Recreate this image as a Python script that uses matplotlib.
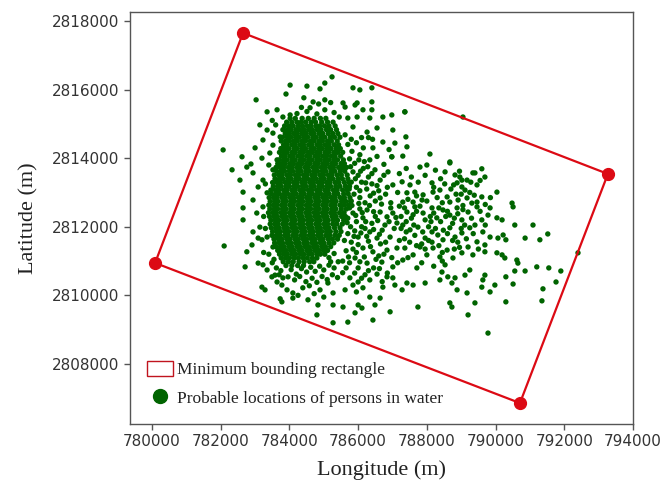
import matplotlib
matplotlib.use("Agg")
import matplotlib.pyplot as plt
import numpy as np
from matplotlib.lines import Line2D
from matplotlib.patches import Patch

# origin of the km offsets used below (UTM metres)
EAST0 = 780000
NORTH0 = 2800000

# corners of the minimum bounding rectangle (m), in drawing order
CORNER_LON = [782650, 793270, 790710, 780090]
CORNER_LAT = [2817650, 2813540, 2806860, 2810945]

# dense core of the drift cloud: (northing km offset, [easting km offsets])
CORE_ROWS = [
    (15.16, [4.02, 4.17, 4.37, 4.55, 4.72, 4.90, 5.06]),
    (15.05, [3.92, 4.07, 4.22, 4.34, 4.47, 4.63, 4.76, 4.94, 5.11, 5.27]),
    (14.94, [3.86, 3.99, 4.11, 4.26, 4.38, 4.52, 4.63, 4.77, 4.88, 5.02, 5.15, 5.33]),
    (14.83, [3.81, 3.94, 4.05, 4.19, 4.30, 4.43, 4.56, 4.67, 4.81, 4.92, 5.08, 5.20, 5.37]),
    (14.72, [3.88, 3.99, 4.12, 4.23, 4.37, 4.48, 4.62, 4.72, 4.87, 4.97, 5.13, 5.26, 5.41]),
    (14.61, [3.80, 3.94, 4.04, 4.18, 4.29, 4.43, 4.53, 4.68, 4.78, 4.92, 5.03, 5.19, 5.31, 5.47]),
    (14.50, [3.76, 3.89, 4.00, 4.13, 4.23, 4.37, 4.47, 4.61, 4.72, 4.86, 4.96, 5.11, 5.22, 5.39]),
    (14.39, [3.83, 3.93, 4.07, 4.17, 4.31, 4.41, 4.56, 4.65, 4.80, 4.90, 5.04, 5.15, 5.30, 5.43]),
    (14.28, [3.75, 3.88, 3.98, 4.13, 4.23, 4.37, 4.47, 4.62, 4.71, 4.85, 4.96, 5.10, 5.21, 5.36, 5.48]),
    (14.17, [3.71, 3.83, 3.93, 4.07, 4.17, 4.31, 4.41, 4.55, 4.66, 4.79, 4.89, 5.04, 5.14, 5.29, 5.41, 5.55]),
    (14.06, [3.77, 3.87, 4.01, 4.11, 4.25, 4.36, 4.50, 4.59, 4.74, 4.84, 4.97, 5.08, 5.22, 5.33, 5.49]),
    (13.95, [3.70, 3.83, 3.93, 4.07, 4.17, 4.32, 4.42, 4.56, 4.66, 4.80, 4.90, 5.04, 5.15, 5.29, 5.40, 5.57]),
    (13.84, [3.66, 3.78, 3.88, 4.02, 4.12, 4.26, 4.36, 4.50, 4.60, 4.74, 4.84, 4.98, 5.09, 5.23, 5.34, 5.50, 5.60]),
    (13.73, [3.61, 3.73, 3.83, 3.97, 4.07, 4.21, 4.31, 4.45, 4.55, 4.69, 4.79, 4.93, 5.03, 5.17, 5.28, 5.43, 5.55, 5.66]),
    (13.62, [3.63, 3.76, 3.86, 4.00, 4.10, 4.24, 4.34, 4.48, 4.58, 4.72, 4.82, 4.96, 5.06, 5.21, 5.32, 5.48, 5.61]),
    (13.51, [3.56, 3.69, 3.79, 3.93, 4.03, 4.17, 4.27, 4.41, 4.51, 4.65, 4.75, 4.89, 4.99, 5.13, 5.24, 5.39, 5.51, 5.68]),
    (13.40, [3.58, 3.71, 3.81, 3.95, 4.05, 4.19, 4.29, 4.43, 4.53, 4.67, 4.77, 4.91, 5.01, 5.15, 5.26, 5.41, 5.54, 5.70]),
    (13.29, [3.51, 3.64, 3.74, 3.88, 3.98, 4.12, 4.22, 4.36, 4.46, 4.60, 4.70, 4.84, 4.94, 5.08, 5.18, 5.33, 5.44, 5.60, 5.74]),
    (13.18, [3.53, 3.66, 3.76, 3.90, 4.00, 4.14, 4.24, 4.38, 4.48, 4.62, 4.72, 4.86, 4.96, 5.10, 5.20, 5.35, 5.47, 5.63, 5.75]),
    (13.07, [3.46, 3.59, 3.69, 3.83, 3.93, 4.07, 4.17, 4.31, 4.41, 4.55, 4.65, 4.79, 4.89, 5.03, 5.13, 5.28, 5.39, 5.55, 5.68]),
    (12.96, [3.48, 3.61, 3.71, 3.85, 3.95, 4.09, 4.19, 4.33, 4.43, 4.57, 4.67, 4.81, 4.91, 5.05, 5.15, 5.30, 5.41, 5.58, 5.71]),
    (12.85, [3.41, 3.54, 3.64, 3.78, 3.88, 4.02, 4.12, 4.26, 4.36, 4.50, 4.60, 4.74, 4.84, 4.98, 5.08, 5.22, 5.33, 5.48, 5.60, 5.76]),
    (12.74, [3.44, 3.57, 3.67, 3.81, 3.91, 4.05, 4.15, 4.29, 4.39, 4.53, 4.63, 4.77, 4.87, 5.01, 5.11, 5.25, 5.36, 5.52, 5.64, 5.78]),
    (12.63, [3.40, 3.53, 3.63, 3.77, 3.87, 4.01, 4.11, 4.25, 4.35, 4.49, 4.59, 4.73, 4.83, 4.97, 5.07, 5.21, 5.32, 5.47, 5.59, 5.72]),
    (12.52, [3.43, 3.56, 3.66, 3.80, 3.90, 4.04, 4.14, 4.28, 4.38, 4.52, 4.62, 4.76, 4.86, 5.00, 5.10, 5.24, 5.35, 5.51, 5.66]),
    (12.41, [3.39, 3.52, 3.62, 3.76, 3.86, 4.00, 4.10, 4.24, 4.34, 4.48, 4.58, 4.72, 4.82, 4.96, 5.06, 5.20, 5.31, 5.46, 5.59]),
    (12.30, [3.42, 3.55, 3.65, 3.79, 3.89, 4.03, 4.13, 4.27, 4.37, 4.51, 4.61, 4.75, 4.85, 4.99, 5.09, 5.24, 5.36, 5.52, 5.63]),
    (12.19, [3.46, 3.59, 3.69, 3.83, 3.93, 4.07, 4.17, 4.31, 4.41, 4.55, 4.65, 4.79, 4.89, 5.03, 5.13, 5.28, 5.40, 5.58]),
    (12.08, [3.44, 3.57, 3.67, 3.81, 3.91, 4.05, 4.15, 4.29, 4.39, 4.53, 4.63, 4.77, 4.87, 5.01, 5.11, 5.26, 5.38, 5.54]),
    (11.97, [3.47, 3.60, 3.70, 3.84, 3.94, 4.08, 4.18, 4.32, 4.42, 4.56, 4.66, 4.80, 4.90, 5.04, 5.15, 5.31, 5.47]),
    (11.86, [3.51, 3.64, 3.74, 3.88, 3.98, 4.12, 4.22, 4.36, 4.46, 4.60, 4.70, 4.84, 4.94, 5.08, 5.19, 5.35, 5.50]),
    (11.75, [3.49, 3.62, 3.72, 3.86, 3.96, 4.10, 4.20, 4.34, 4.44, 4.58, 4.68, 4.82, 4.92, 5.06, 5.17, 5.32, 5.45]),
    (11.64, [3.55, 3.68, 3.78, 3.92, 4.02, 4.16, 4.26, 4.40, 4.50, 4.64, 4.74, 4.88, 4.98, 5.13, 5.25, 5.40]),
    (11.53, [3.57, 3.70, 3.80, 3.94, 4.04, 4.18, 4.28, 4.42, 4.52, 4.66, 4.76, 4.90, 5.00, 5.15, 5.29]),
    (11.42, [3.61, 3.74, 3.84, 3.98, 4.08, 4.22, 4.32, 4.46, 4.56, 4.70, 4.80, 4.94, 5.05, 5.20]),
    (11.31, [3.66, 3.79, 3.89, 4.03, 4.13, 4.27, 4.37, 4.51, 4.61, 4.75, 4.85, 4.99, 5.11]),
    (11.20, [3.71, 3.84, 3.94, 4.08, 4.18, 4.32, 4.42, 4.56, 4.66, 4.80, 4.90, 5.03]),
    (11.09, [3.76, 3.89, 4.00, 4.14, 4.26, 4.40, 4.52, 4.67, 4.80]),
    (10.98, [3.82, 3.97, 4.11, 4.28, 4.43, 4.59, 4.71]),
    (10.87, [3.90, 4.07, 4.24, 4.41]),
]

# scattered positions around the core: (easting km offset, northing km offset)
SCATTER_PTS = [
    # northern fringe
    (4.02, 16.13), (4.51, 16.10), (4.89, 16.02), (5.24, 16.37), (5.03, 16.19),
    (5.85, 16.05), (6.05, 15.99), (6.40, 16.05), (3.03, 15.70), (3.90, 15.87),
    (4.42, 15.76), (4.69, 15.64), (5.03, 15.70), (4.85, 15.58), (5.20, 15.62),
    (5.62, 15.49), (5.91, 15.55), (6.14, 15.41), (6.40, 15.41), (5.56, 15.61),
    (5.97, 15.61), (6.40, 15.64), (3.35, 15.35), (3.64, 15.41), (3.81, 15.20),
    (4.02, 15.26), (4.22, 15.30), (4.51, 15.36), (4.80, 15.29), (5.03, 15.41),
    (5.30, 15.33), (5.45, 15.20), (4.35, 15.48), (4.60, 15.47), (6.72, 15.20),
    (6.98, 15.26), (7.36, 15.35), (9.05, 15.20), (5.70, 15.17), (5.97, 15.20),
    (6.34, 15.17), (6.55, 14.88), (6.26, 14.76), (7.01, 14.82), (5.85, 14.91),
    (5.62, 14.68), (3.14, 14.97), (3.35, 14.82), (3.52, 14.73), (3.23, 14.53),
    (3.73, 14.62), (3.60, 14.97), (3.50, 15.10),
    # western fringe
    (2.07, 14.24), (2.62, 14.04), (3.00, 14.30), (3.43, 14.15), (3.64, 13.95),
    (3.52, 14.38), (2.33, 13.66), (2.76, 13.74), (2.88, 13.83), (2.94, 13.57),
    (3.52, 13.66), (2.56, 13.36), (3.23, 13.36), (3.40, 13.80), (3.20, 14.00),
    (2.65, 13.01), (3.09, 13.16), (3.35, 12.99), (2.94, 12.78), (3.23, 12.58),
    (3.30, 13.25), (2.65, 12.55), (2.65, 12.20), (3.14, 11.99), (3.09, 11.67),
    (3.20, 11.62), (2.94, 11.85), (3.35, 11.70), (2.91, 11.47), (3.52, 11.41),
    (3.25, 12.30), (3.05, 12.40), (3.30, 11.95), (2.10, 11.44), (2.76, 11.27),
    (3.40, 11.20), (3.55, 11.05), (3.25, 11.25), (2.71, 10.83), (3.09, 10.94),
    (3.23, 10.89), (3.35, 10.74), (3.50, 10.95), (3.62, 10.80), (3.75, 10.72),
    (3.20, 10.24), (3.29, 10.16), (3.49, 10.54), (3.64, 10.39), (3.58, 10.59),
    (3.78, 10.30), (3.93, 10.16), (4.10, 10.07), (3.96, 10.54), (3.81, 10.51),
    (3.70, 10.60), (3.78, 9.81), (3.73, 9.90), (4.10, 9.92),
    # southern fringe
    (4.05, 10.75), (4.20, 10.62), (4.35, 10.78), (4.50, 10.68), (4.62, 10.82),
    (4.75, 10.70), (4.88, 10.85), (5.00, 10.74), (5.15, 10.88), (5.30, 10.80),
    (4.15, 10.45), (4.30, 10.55), (4.48, 10.40), (4.66, 10.50), (4.80, 10.38),
    (4.95, 10.55), (5.10, 10.46), (5.25, 10.60), (5.40, 10.52), (5.55, 10.66),
    (4.39, 10.22), (4.58, 10.28), (4.89, 10.16), (5.12, 10.36), (5.27, 10.07),
    (5.62, 10.16), (4.72, 10.05), (5.00, 9.95), (4.54, 9.87), (4.25, 10.00),
    (4.83, 9.72), (4.80, 9.43), (5.27, 9.72), (5.56, 9.66), (5.27, 9.20),
    (5.70, 9.22), (5.91, 9.49), (6.11, 9.63), (6.00, 9.72), (5.15, 11.10),
    (5.30, 11.22), (5.42, 10.98), (5.20, 10.98),
    # east of the core
    (6.72, 14.47), (6.43, 14.30), (6.34, 13.95), (6.49, 13.66), (6.87, 13.60),
    (6.64, 13.36), (7.01, 13.22), (6.64, 12.84), (6.98, 14.04), (7.07, 14.44),
    (6.90, 14.25), (5.70, 14.40), (5.82, 14.20), (5.95, 14.45), (5.75, 13.98),
    (5.90, 13.85), (6.05, 14.10), (6.18, 13.90), (5.85, 13.60), (6.00, 13.50),
    (6.15, 13.70), (6.30, 13.45), (5.80, 13.30), (5.95, 13.15), (6.10, 13.30),
    (6.25, 13.10), (6.40, 13.25), (5.88, 12.95), (6.05, 12.85), (6.20, 12.70),
    (6.35, 12.90), (6.50, 12.75), (6.80, 12.95), (6.95, 12.70), (5.80, 12.75),
    (6.60, 13.05), (6.15, 14.30), (6.30, 14.60),
    (5.85, 12.40), (6.14, 12.26), (6.26, 12.49), (6.64, 12.43), (6.84, 12.29),
    (7.01, 12.40), (6.78, 12.05), (7.13, 12.11), (6.34, 11.85), (6.55, 11.67),
    (6.93, 11.70), (6.00, 11.70), (6.14, 11.38), (6.43, 11.27), (6.84, 11.32),
    (7.13, 11.38), (5.91, 11.09), (6.26, 10.94), (6.69, 10.97), (7.01, 10.83),
    (6.00, 10.80), (5.75, 12.55), (5.95, 12.15), (6.05, 12.52), (6.40, 12.10),
    (6.50, 12.30), (5.78, 12.00), (5.90, 11.88), (6.20, 11.95), (6.70, 11.90),
    (6.10, 12.00), (5.70, 11.80), (5.80, 11.55), (6.00, 11.48), (6.30, 11.58),
    (6.65, 11.50), (5.65, 11.30), (5.85, 11.35), (6.60, 11.15), (5.55, 11.00),
    (5.75, 10.95), (6.45, 10.80), (6.85, 10.65), (5.60, 11.60), (5.70, 12.25),
    (6.95, 12.55), (7.20, 12.60), (7.25, 11.95), (7.20, 11.60),
    (5.76, 10.51), (6.00, 10.39), (6.34, 10.45), (6.84, 10.54), (7.01, 10.51),
    (5.85, 10.30), (6.14, 10.22), (6.72, 10.24), (7.07, 10.30), (6.49, 9.72),
    (6.64, 9.92), (6.34, 9.95), (6.43, 9.28), (6.93, 9.52), (6.20, 10.60),
    (6.55, 10.62),
    # east infill, densest just off the core
    (5.82, 12.62), (5.93, 12.33), (6.02, 12.68), (6.12, 12.41), (6.22, 12.15),
    (6.33, 12.62), (6.45, 12.44), (6.57, 12.18), (6.68, 12.66), (6.90, 12.15),
    (5.68, 12.12), (5.88, 11.72), (6.08, 11.82), (6.25, 11.72), (6.45, 11.92),
    (6.62, 11.78), (6.80, 11.55), (7.05, 11.95), (7.10, 12.27), (5.95, 11.25),
    (6.18, 11.12), (6.36, 11.42), (6.52, 11.05), (6.75, 11.20), (6.98, 11.10),
    (7.15, 10.95), (5.72, 11.12), (6.05, 10.98), (6.30, 10.72), (6.62, 10.78),
    (5.90, 10.65), (6.10, 10.50), (6.70, 10.40), (5.65, 10.80), (5.95, 10.10),
    (5.74, 13.10), (5.92, 13.40), (6.07, 13.62), (6.22, 13.28), (6.40, 13.55),
    (6.55, 13.20), (6.75, 13.50), (6.85, 13.15), (6.05, 13.05), (6.45, 12.98),
    (5.78, 13.75), (6.02, 13.95), (6.28, 13.75), (6.55, 14.05), (6.75, 13.82),
    (5.80, 14.55), (6.10, 14.60), (6.42, 14.55),
    (7.35, 12.55), (7.60, 12.35), (7.80, 12.60), (8.10, 12.30), (8.35, 12.55),
    (8.60, 12.45), (8.80, 12.25), (9.05, 12.50), (9.30, 12.25), (9.55, 12.45),
    (7.40, 11.85), (7.62, 12.05), (7.88, 11.85), (8.12, 12.15), (8.48, 11.90),
    (8.75, 11.60), (9.00, 11.95), (9.40, 12.05), (9.70, 12.05), (7.35, 11.65),
    (7.70, 11.45), (8.15, 11.55), (8.45, 11.25), (8.95, 11.40), (9.50, 11.35),
    # south-east lobe
    (7.42, 12.43), (7.65, 12.58), (7.89, 12.40), (8.15, 12.55), (8.29, 12.26),
    (8.47, 12.49), (8.67, 12.34), (8.88, 12.55), (9.02, 12.20), (9.20, 12.43),
    (9.46, 12.58), (9.60, 12.20), (9.78, 12.34), (10.04, 12.26), (9.84, 12.55),
    (7.30, 12.05), (7.51, 11.91), (7.74, 11.99), (7.95, 11.67), (8.15, 11.85),
    (8.32, 11.76), (8.47, 11.62), (8.67, 11.97), (8.82, 11.70), (9.02, 11.82),
    (9.25, 11.97), (9.63, 11.85), (9.84, 11.70), (10.07, 11.67), (9.46, 11.56),
    (9.69, 11.47), (7.36, 11.38), (7.60, 11.18), (7.80, 11.41), (8.00, 11.18),
    (8.18, 11.38), (8.38, 11.12), (8.59, 11.32), (8.76, 11.09), (9.02, 11.24),
    (9.20, 11.41), (9.34, 11.18), (9.69, 11.27), (10.04, 11.24), (7.30, 11.03),
    (8.53, 10.89), (7.55, 12.25), (7.70, 12.45), (7.95, 12.20), (8.05, 12.00),
    (8.20, 12.40), (8.40, 12.15), (8.55, 12.30), (8.75, 12.10), (8.90, 12.38),
    (9.10, 12.05), (7.40, 12.15), (7.65, 11.75), (7.85, 11.50), (8.05, 11.60),
    (8.25, 11.95), (8.60, 11.80), (8.90, 11.55), (9.15, 11.65), (7.50, 11.55),
    (7.95, 11.35), (8.35, 11.45), (8.80, 11.35), (9.35, 11.80), (7.25, 12.30),
    (7.45, 11.10), (7.85, 10.95), (8.20, 10.85), (8.45, 11.00),
    (7.71, 10.80), (7.42, 10.36), (7.60, 10.30), (7.28, 10.16), (7.95, 10.36),
    (8.44, 10.68), (8.61, 10.54), (8.38, 10.45), (8.82, 10.51), (8.73, 10.36),
    (9.11, 10.59), (9.25, 10.74), (8.88, 10.16), (9.17, 10.07), (9.60, 10.24),
    (9.84, 10.10), (9.98, 10.30), (9.69, 10.59), (9.63, 10.45), (7.74, 9.66),
    (8.67, 9.78), (8.73, 9.66), (9.40, 9.78), (9.20, 9.43), (9.78, 8.90),
    # north-east cluster
    (7.36, 15.35), (7.39, 14.62), (7.42, 14.33), (7.30, 14.06), (8.09, 14.12),
    (8.00, 13.80), (7.80, 13.74), (8.67, 13.89), (8.53, 13.60), (9.60, 13.69),
    (9.40, 13.57), (9.69, 13.45), (8.82, 13.51), (8.96, 13.45), (9.17, 13.36),
    (9.02, 13.36), (8.88, 13.28), (9.02, 13.16), (9.11, 13.07), (9.46, 13.22),
    (10.04, 13.01), (8.15, 13.28), (8.18, 13.01), (8.38, 13.07), (8.59, 12.87),
    (8.67, 12.72), (8.91, 12.78), (9.17, 12.84), (9.31, 12.69), (9.60, 12.87),
    (9.46, 12.72), (7.42, 12.99), (7.65, 13.01), (7.89, 12.93), (7.60, 12.72),
    (7.86, 12.78), (7.28, 13.31), (7.51, 13.22), (7.30, 12.72), (7.45, 12.80),
    (7.70, 12.90), (8.00, 12.75), (8.30, 12.85), (8.45, 12.70), (9.00, 12.95),
    (9.70, 12.65), (9.85, 12.85), (8.20, 13.15), (8.70, 13.10), (9.25, 13.00),
    (9.55, 13.35), (8.40, 13.40), (7.95, 13.50), (7.15, 13.00), (7.20, 13.55),
    (7.55, 13.45), (9.34, 13.57), (8.67, 13.86), (6.98, 14.04),
    (8.78, 13.22), (8.95, 13.62), (9.28, 13.30), (9.05, 12.62), (8.52, 13.25),
    (8.85, 12.95), (9.38, 12.92), (7.75, 13.30), (7.40, 13.70), (8.25, 13.65),
    # far south-east stragglers
    (10.51, 12.58), (10.48, 12.69), (10.19, 12.20), (10.22, 11.76), (10.30, 11.62),
    (10.56, 12.05), (11.09, 12.05), (10.86, 11.67), (11.29, 11.62), (11.52, 11.79),
    (10.19, 11.18), (10.27, 11.09), (10.62, 11.03), (10.65, 10.94), (11.20, 10.83),
    (11.55, 10.80), (11.90, 10.71), (10.56, 10.71), (10.86, 10.71), (10.30, 10.54),
    (10.51, 10.33), (11.76, 10.39), (11.38, 10.19), (10.30, 9.81), (11.35, 9.84),
    (12.40, 11.24),
]

RED = "#dc0a14"
GREEN = "#006400"
SERIF = "Liberation Serif"

core_x = [x for lat, row in CORE_ROWS for x in row]
core_y = [lat for lat, row in CORE_ROWS for _ in row]
pts = np.array(SCATTER_PTS)
lon = EAST0 + 1000 * np.concatenate([core_x, pts[:, 0]])
lat = NORTH0 + 1000 * np.concatenate([core_y, pts[:, 1]])

fig = plt.figure(figsize=(6.61, 4.87), dpi=100)
ax = fig.add_axes([0.1967, 0.1294, 0.7609, 0.846])

ax.scatter(lon, lat, s=15, color=GREEN, edgecolors="none", zorder=2)

# closed polygon for the rectangle
rx = CORNER_LON + CORNER_LON[:1]
ry = CORNER_LAT + CORNER_LAT[:1]
ax.plot(rx, ry, color=RED, lw=1.6, zorder=3)
ax.plot(CORNER_LON, CORNER_LAT, "o", color=RED, ms=8.5, zorder=4)

ax.set_xlim(779360, 794000)
ax.set_ylim(2806250, 2818262)
ax.set_xticks(np.arange(780000, 794001, 2000))
ax.set_yticks(np.arange(2808000, 2818001, 2000))
ax.ticklabel_format(useOffset=False, style="plain")

for side in ["left", "bottom", "right", "top"]:
    ax.spines[side].set_color("#555555")
    ax.spines[side].set_linewidth(1.0)
ax.tick_params(direction="out", length=4, width=1, color="#555555",
               labelsize=11, labelcolor="#333333")

ax.set_xlabel("Longitude (m)", fontsize=16, family=SERIF, color="#222222", labelpad=8)
ax.set_ylabel("Latitude (m)", fontsize=16, family=SERIF, color="#222222", labelpad=10)

handles = [
    Patch(facecolor="white", edgecolor="#c0141e", lw=1.0),
    Line2D([], [], ls="none", marker="o", ms=10, color=GREEN),
]
labels = ["Minimum bounding rectangle", "Probable locations of persons in water"]
ax.legend(handles, labels, loc="lower left", bbox_to_anchor=(0.0, 0.0),
          frameon=False, prop={"family": SERIF, "size": 12.5},
          handlelength=1.5, handleheight=1.0, handletextpad=0.2,
          labelspacing=0.6, borderaxespad=0.6, labelcolor="#222222")

fig.savefig("out.png", dpi=100)
